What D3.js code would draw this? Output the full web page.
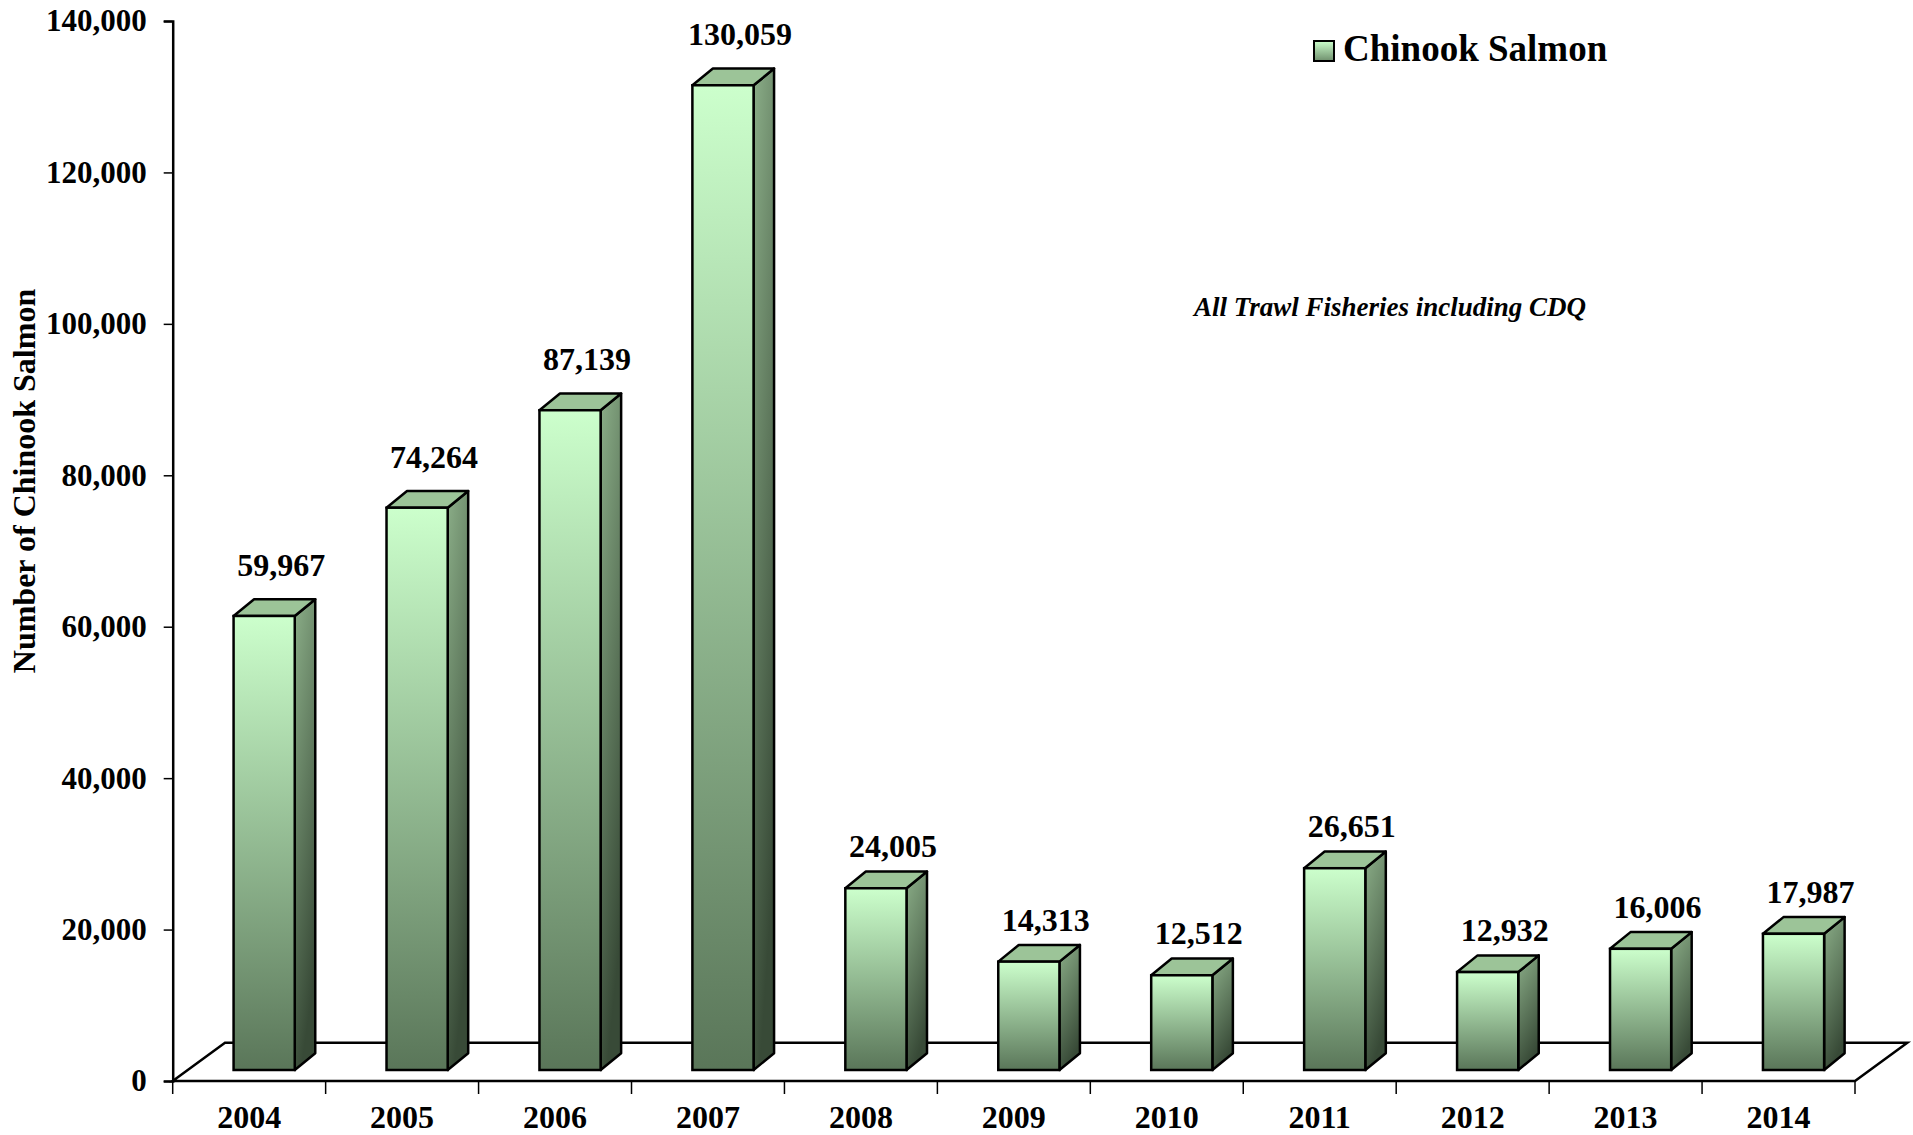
<!DOCTYPE html>
<html>
<head>
<meta charset="utf-8">
<script src="https://d3js.org/d3.v7.min.js"></script>
<style>
  html, body { margin: 0; padding: 0; background: #fff; }
  svg { display: block; }
  text { font-family: "Liberation Serif", "Times New Roman", serif; font-weight: bold; fill: #000; }
</style>
</head>
<body>
<svg id="chart" width="1913" height="1135"></svg>
<script>
// Chinook salmon bycatch by year
const years = ["2004", "2005", "2006", "2007", "2008", "2009", "2010", "2011", "2012", "2013", "2014"];
const chinook = [59967, 74264, 87139, 130059, 24005, 14313, 12512, 26651, 12932, 16006, 17987];
const yTicks = [0, 20000, 40000, 60000, 80000, 100000, 120000, 140000];

const svg = d3.select("#chart");
const fmt = d3.format(",");

// plot frame (front plane of the 3D floor)
const plotLeft = 172.7, plotRight = 1855, plotTop = 21, plotBottom = 1081;
const floorDx = 52.3, floorDy = -38.3;    // depth of the floor
const barDx = 20.5, barDy = -16.7;        // depth of each column
const barShiftX = 15, barShiftY = -11;    // columns sit partway into the floor

const x = d3.scaleBand().domain(years).range([plotLeft, plotRight]).paddingInner(0).paddingOuter(0);
const y = d3.scaleLinear().domain([0, 140000]).range([plotBottom, plotTop]);

// gradients
const defs = svg.append("defs");
const gFront = defs.append("linearGradient").attr("id", "front").attr("x1", 0).attr("y1", 0).attr("x2", 0).attr("y2", 1);
gFront.append("stop").attr("offset", "0%").attr("stop-color", "#ccffcc");
gFront.append("stop").attr("offset", "100%").attr("stop-color", "#5a7659");
const gSide = defs.append("linearGradient").attr("id", "side").attr("x1", 0).attr("y1", 0).attr("x2", 0.3).attr("y2", 1);
gSide.append("stop").attr("offset", "0%").attr("stop-color", "#8bae88");
gSide.append("stop").attr("offset", "100%").attr("stop-color", "#384a37");
const gLegend = defs.append("linearGradient").attr("id", "legendFill").attr("x1", 0).attr("y1", 0).attr("x2", 0).attr("y2", 1);
gLegend.append("stop").attr("offset", "0%").attr("stop-color", "#ccffcc");
gLegend.append("stop").attr("offset", "100%").attr("stop-color", "#6f8f6d");

// floor outline
const floorPts = [
  [plotLeft, y(0)], [plotLeft + floorDx, y(0) + floorDy],
  [plotRight + floorDx, y(0) + floorDy], [plotRight, y(0)]
];
svg.append("path")
  .attr("d", d3.line()(floorPts) + "Z")
  .attr("fill", "none").attr("stroke", "#000").attr("stroke-width", 2.5);

// y axis
const yAxis = d3.axisLeft(y).tickValues(yTicks).tickSize(9).tickPadding(17).tickFormat(fmt);
const gy = svg.append("g").attr("transform", `translate(${plotLeft},0)`).call(yAxis);
gy.select(".domain").attr("stroke", "#000").attr("stroke-width", 2.5);
gy.selectAll(".tick line").attr("stroke", "#000").attr("stroke-width", 1.5);
gy.selectAll(".tick text").style("font-family", "'Liberation Serif', 'Times New Roman', serif")
  .style("font-weight", "bold").style("font-size", "31px").attr("fill", "#000");

// x axis ticks at category boundaries
const bounds = years.map(d => x(d)).concat([plotRight]);
svg.append("g").selectAll("line").data(bounds).join("line")
  .attr("x1", d => d).attr("x2", d => d)
  .attr("y1", plotBottom).attr("y2", plotBottom + 13)
  .attr("stroke", "#000").attr("stroke-width", 1.5);
svg.append("g").selectAll("text").data(years).join("text")
  .attr("x", d => x(d) + x.bandwidth() / 2)
  .attr("y", 1128)
  .attr("text-anchor", "middle")
  .style("font-size", "32px")
  .text(d => d);

// columns
const bw = x.bandwidth() * 0.4;
const bars = svg.append("g").selectAll("g").data(years.map((d, i) => ({ year: d, v: chinook[i] }))).join("g");
bars.each(function (d) {
  const g = d3.select(this);
  const x0 = x(d.year) + x.bandwidth() * 0.3 + barShiftX;
  const x1 = x0 + bw;
  const yt = y(d.v) + barShiftY;
  const yb = y(0) + barShiftY;
  // side face
  g.append("path")
    .attr("d", d3.line()([[x1, yt], [x1 + barDx, yt + barDy], [x1 + barDx, yb + barDy], [x1, yb]]) + "Z")
    .attr("fill", "url(#side)").attr("stroke", "#000").attr("stroke-width", 2.5).attr("stroke-linejoin", "round");
  // top face
  g.append("path")
    .attr("d", d3.line()([[x0, yt], [x0 + barDx, yt + barDy], [x1 + barDx, yt + barDy], [x1, yt]]) + "Z")
    .attr("fill", "#9cc498").attr("stroke", "#000").attr("stroke-width", 2.5).attr("stroke-linejoin", "round");
  // front face
  g.append("rect")
    .attr("x", x0).attr("y", yt).attr("width", bw).attr("height", yb - yt)
    .attr("fill", "url(#front)").attr("stroke", "#000").attr("stroke-width", 2.5);
  // value label (short columns keep their label a little closer)
  g.append("text")
    .attr("x", x0 + bw / 2 + 17)
    .attr("y", yt - (d.v > 50000 ? 40 : 31))
    .attr("text-anchor", "middle")
    .style("font-size", "32px")
    .text(fmt(d.v));
});

// y axis title
svg.append("text")
  .attr("transform", "translate(35,481) rotate(-90)")
  .attr("text-anchor", "middle")
  .style("font-size", "32px")
  .text("Number of Chinook Salmon");

// note
svg.append("text")
  .attr("x", 1390).attr("y", 316)
  .attr("text-anchor", "middle")
  .style("font-size", "27px").style("font-style", "italic")
  .text("All Trawl Fisheries including CDQ");

// legend
svg.append("rect")
  .attr("x", 1314).attr("y", 41).attr("width", 20).attr("height", 20)
  .attr("fill", "url(#legendFill)").attr("stroke", "#000").attr("stroke-width", 2);
svg.append("text")
  .attr("x", 1343).attr("y", 61)
  .style("font-size", "37px")
  .text("Chinook Salmon");
</script>
</body>
</html>
